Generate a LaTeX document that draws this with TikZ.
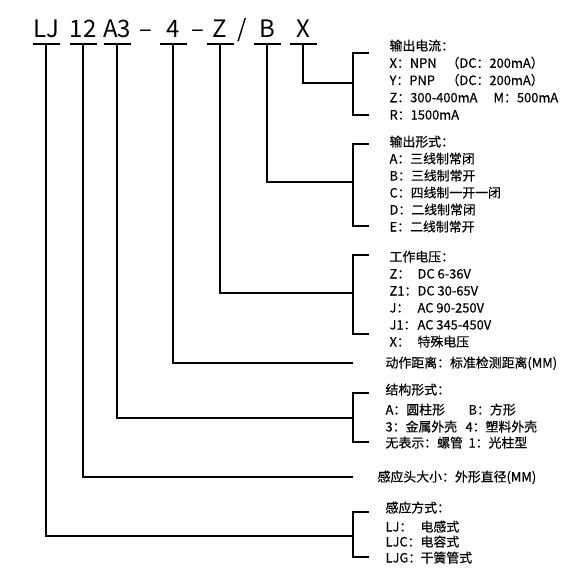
\documentclass[tikz,border=0pt]{standalone}
\usepackage{fontspec}
\setmainfont{Noto Sans CJK SC}
\newfontfamily\txtfont{Noto Sans CJK SC}[FakeBold=0.35]
\newcommand\cl[2]{\makebox[#1pt][l]{#2}}
\begin{document}
\begin{tikzpicture}[x=1pt, y=-1pt, line width=1.1pt, line join=miter]
	\tikzset{code/.style={anchor=base, inner sep=0pt, font=\fontsize{24}{24}\selectfont},
		txt/.style={anchor=base west, inner sep=0pt, font=\txtfont\fontsize{12.9}{17}\selectfont}}
	\useasboundingbox (0,0) rectangle (580,573);
	% model code and stems
	\foreach \t/\x/\n/\y in {LJ/46/lj/536, 12/83/sz/477, A3/117/sh/418, 4/173/ds/363, Z/220/vt/293, B/267/ot/182, X/303/cu/83}{
		\node[code] (\n) at (\x,37) {\t};
		\coordinate (\n-u) at (\x,44);
		\coordinate (\n-e) at (353,\y);
		\draw ([xshift=-13.5pt]\n-u) -- ([xshift=13.5pt]\n-u);
		\draw (\n-u) -- (\n-u |- \n-e) -- (\n-e);
	}
	\node[code] (d1) at (146,37) {–};
	\node[code] (d2) at (197.5,37) {–};
	\node[code] (sl) at (242.5,37) {/};
	% brackets
	\foreach \a/\b in {53/115, 144/226, 255/334, 393/442, 512/557}
		\draw (369,\a) -- (353,\a) -- (353,\b) -- (369,\b);
	% texts
	\foreach \s [count=\i from 0] in {输出电流：, {\cl{57}{X：NPN}（DC：200mA）}, {\cl{57}{Y：PNP}（DC：200mA）}, {\cl{104}{Z：300-400mA}M：500mA}, R：1500mA}
		\node[txt] (cu-\i) at (389,50.5+17.25*\i) {\s};
	\foreach \s [count=\i from 0] in {输出形式：, A：三线制常闭, B：三线制常开, C：四线制一开一闭, D：二线制常闭, E：二线制常开}
		\node[txt] (ot-\i) at (389,146.5+17*\i) {\s};
	\foreach \s [count=\i from 0] in {工作电压：, {\cl{28}{Z：}DC 6-36V}, {\cl{28}{Z1：}DC 30-65V}, {\cl{28}{J：}AC 90-250V}, {\cl{28}{J1：}AC 345-450V}, {\cl{28}{X：}特殊电压}}
		\node[txt] (vt-\i) at (389,261.5+17*\i) {\s};
	\node[txt] (ds-0) at (385,367.5) {动作距离：标准检测距离(MM)};
	\node[txt] (sh-0) at (385,394.5) {结构形式：};
	\node[txt] (sh-1) at (385,414.5) {\cl{83}{A：圆柱形}B：方形};
	\node[txt] (sh-2) at (385,431.5) {\cl{80}{3：金属外壳}4：塑料外壳};
	\node[txt] (sh-3) at (385,447.5) {\cl{83}{无表示：螺管}1：光柱型};
	\node[txt] (sz-0) at (377,481.5) {感应头大小：外形直径(MM)};
	\node[txt] (lj-0) at (385,512.5) {感应方式：};
	\node[txt] (lj-1) at (385,531.5) {\cl{35}{LJ：}电感式};
	\node[txt] (lj-2) at (385,546.5) {\cl{35}{LJC：}电容式};
	\node[txt] (lj-3) at (385,562.5) {\cl{35}{LJG：}干簧管式};
\end{tikzpicture}
\end{document}
